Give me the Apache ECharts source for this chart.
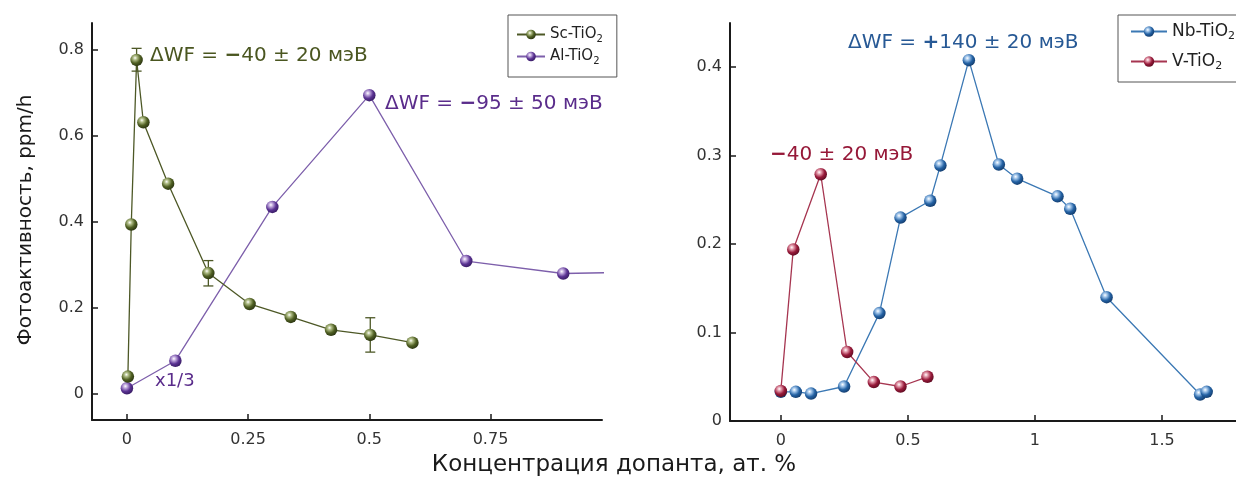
<!DOCTYPE html>
<html>
<head>
<meta charset="utf-8">
<script src="https://cdn.jsdelivr.net/npm/echarts@6/dist/echarts.min.js"></script>
<style>
  html, body { margin: 0; padding: 0; background: #fff; overflow: hidden; }
  #main { width: 1300px; height: 479px; }
</style>
</head>
<body>
<div id="main"></div>
<script>
;(function () {
  // left panel
  const scConc = [0.002, 0.009, 0.02, 0.034, 0.085, 0.168, 0.253, 0.338, 0.421, 0.502, 0.589]
  const scAct = [0.04, 0.394, 0.777, 0.632, 0.489, 0.281, 0.209, 0.179, 0.149, 0.137, 0.119]
  const scErr = [[0.02, 0.751, 0.804], [0.168, 0.251, 0.31], [0.502, 0.097, 0.177]]
  const alConc = [0, 0.1, 0.3, 0.5, 0.7, 0.9, 1.1]
  const alAct = [0.013, 0.077, 0.435, 0.695, 0.309, 0.28, 0.284]
  const leftXTicks = [0, 0.25, 0.5, 0.75]
  const leftYTicks = [0, 0.2, 0.4, 0.6, 0.8]

  // right panel
  const nbConc = [0, 0.059, 0.119, 0.249, 0.388, 0.471, 0.588, 0.628, 0.74, 0.858, 0.93, 1.089, 1.139, 1.282, 1.65, 1.676]
  const nbAct = [0.033, 0.033, 0.031, 0.039, 0.122, 0.23, 0.249, 0.289, 0.408, 0.29, 0.274, 0.254, 0.24, 0.14, 0.03, 0.033]
  const vConc = [0, 0.049, 0.157, 0.261, 0.366, 0.471, 0.577]
  const vAct = [0.034, 0.194, 0.279, 0.078, 0.044, 0.039, 0.05]
  const rightXTicks = [0, 0.5, 1, 1.5]
  const rightYTicks = [0, 0.1, 0.2, 0.3, 0.4]

  const FONT = 'DejaVu Sans'

  function zip(xs, ys) {
    return xs.map((x, i) => [x, ys[i]])
  }

  function ball(main, dark, light) {
    return new echarts.graphic.RadialGradient(0.38, 0.34, 0.7, [
      { offset: 0, color: '#ffffff' },
      { offset: 0.22, color: light },
      { offset: 0.6, color: main },
      { offset: 1, color: dark },
    ])
  }

  function lineSeries(name, data, idx, lineColor, main, dark, light) {
    return {
      name,
      type: 'line',
      xAxisIndex: idx,
      yAxisIndex: idx,
      data,
      clip: true,
      symbol: 'circle',
      symbolSize: 12.5,
      lineStyle: { color: lineColor, width: 1.3 },
      itemStyle: { color: ball(main, dark, light), borderWidth: 0 },
      emphasis: { disabled: true },
      z: 3,
    }
  }

  function xAxis(idx, min, max, ticks) {
    return {
      type: 'value',
      gridIndex: idx,
      min,
      max,
      axisLine: { onZero: false, lineStyle: { color: '#1a1a1a', width: 2 } },
      axisTick: { inside: true, length: 6, customValues: ticks, lineStyle: { color: '#1a1a1a', width: 1.5 } },
      axisLabel: { customValues: ticks, fontFamily: FONT, fontSize: 16, color: '#333', margin: 12 },
      splitLine: { show: false },
    }
  }

  function yAxis(idx, min, max, ticks) {
    return {
      type: 'value',
      gridIndex: idx,
      min,
      max,
      axisLine: { show: true, onZero: false, lineStyle: { color: '#1a1a1a', width: 2 } },
      axisTick: { show: true, inside: true, length: 6, customValues: ticks, lineStyle: { color: '#1a1a1a', width: 1.5 } },
      axisLabel: { customValues: ticks, fontFamily: FONT, fontSize: 16, color: '#333', margin: 8 },
      splitLine: { show: false },
    }
  }

  function legendText(size) {
    return {
      fontFamily: FONT,
      fontSize: size,
      color: '#222',
      rich: { sub: { fontFamily: FONT, fontSize: Math.round(size * 0.66), color: '#222', padding: [Math.round(size * 0.6), 0, 0, 0] } },
    }
  }
  const legendFmt = (name) => name.replace('TiO2', 'TiO{sub|2}')

  function note(x, y, text, color, size) {
    return {
      type: 'text',
      x,
      y,
      z: 10,
      style: {
        text,
        fill: color,
        font: (size || 20) + 'px "' + FONT + '"',
        align: 'left',
        verticalAlign: 'middle',
        textAlign: 'left',
        textVerticalAlign: 'middle',
        rich: { b: { fontWeight: 'bold', fill: color, fontSize: size || 20, fontFamily: FONT } },
      },
    }
  }

  const chart = echarts.init(document.getElementById('main'), null, { renderer: 'canvas' })

  chart.setOption({
    animation: false,
    backgroundColor: '#fff',
    grid: [
      { left: 92, top: 23, width: 510, height: 397 },
      { left: 730, top: 23, width: 559, height: 398 },
    ],
    xAxis: [xAxis(0, -0.072, 0.98, leftXTicks), xAxis(1, -0.2, 2.0, rightXTicks)],
    yAxis: [yAxis(0, -0.061, 0.863, leftYTicks), yAxis(1, 0, 0.45, rightYTicks)],
    legend: [
      {
        data: ['Sc-TiO2', 'Al-TiO2'],
        orient: 'vertical',
        left: 508,
        top: 15,
        padding: [12, 14, 11, 8],
        itemGap: 5,
        itemWidth: 28,
        itemHeight: 12,
        borderColor: '#555',
        borderWidth: 1,
        borderRadius: 0,
        formatter: legendFmt,
        textStyle: legendText(15),
      },
      {
        data: ['Nb-TiO2', 'V-TiO2'],
        orient: 'vertical',
        left: 1118,
        top: 15,
        padding: [8, 14, 10, 12],
        itemGap: 11,
        itemWidth: 36,
        itemHeight: 13,
        borderColor: '#555',
        borderWidth: 1,
        borderRadius: 0,
        formatter: legendFmt,
        textStyle: legendText(17),
      },
    ],
    graphic: [
      note(150, 56, 'ΔWF = {b|−}40 ± 20 мэВ', '#4a5620'),
      note(385, 104, 'ΔWF = {b|−}95 ± 50 мэВ', '#5a2c8b'),
      note(155, 381, 'x1/3', '#5a2c8b', 18),
      note(848, 43, 'ΔWF = {b|+}140 ± 20 мэВ', '#275995'),
      note(770, 155, '{b|−}40 ± 20 мэВ', '#961838'),
      {
        type: 'text',
        x: 26,
        y: 220,
        rotation: Math.PI / 2,
        style: {
          text: 'Фотоактивность, ppm/h',
          fill: '#1a1a1a',
          font: '20px "' + FONT + '"',
          align: 'center',
          verticalAlign: 'middle',
          textAlign: 'center',
          textVerticalAlign: 'middle',
        },
      },
      {
        type: 'text',
        x: 614,
        y: 465,
        style: {
          text: 'Концентрация допанта, ат. %',
          fill: '#1a1a1a',
          font: '23px "' + FONT + '"',
          align: 'center',
          verticalAlign: 'middle',
          textAlign: 'center',
          textVerticalAlign: 'middle',
        },
      },
    ],
    series: [
      lineSeries('Al-TiO2', zip(alConc, alAct), 0, '#7d5fab', '#5b3393', '#361a62', '#c3acdf'),
      lineSeries('Sc-TiO2', zip(scConc, scAct), 0, '#4d5826', '#4f5f22', '#283210', '#b3c08a'),
      {
        type: 'custom',
        xAxisIndex: 0,
        yAxisIndex: 0,
        data: scErr,
        z: 2,
        renderItem(params, api) {
          const top = api.coord([api.value(0), api.value(2)])
          const bot = api.coord([api.value(0), api.value(1)])
          const w = 5
          const style = { stroke: '#4d5826', lineWidth: 1.3 }
          return {
            type: 'group',
            children: [
              { type: 'line', shape: { x1: top[0], y1: top[1], x2: bot[0], y2: bot[1] }, style },
              { type: 'line', shape: { x1: top[0] - w, y1: top[1], x2: top[0] + w, y2: top[1] }, style },
              { type: 'line', shape: { x1: bot[0] - w, y1: bot[1], x2: bot[0] + w, y2: bot[1] }, style },
            ],
          }
        },
      },
      lineSeries('Nb-TiO2', zip(nbConc, nbAct), 1, '#3b78b4', '#2462a4', '#123a6a', '#a5c8ec'),
      lineSeries('V-TiO2', zip(vConc, vAct), 1, '#a63550', '#981a3a', '#5c0a20', '#e6a0b0'),
    ],
  })
})()
</script>
</body>
</html>
